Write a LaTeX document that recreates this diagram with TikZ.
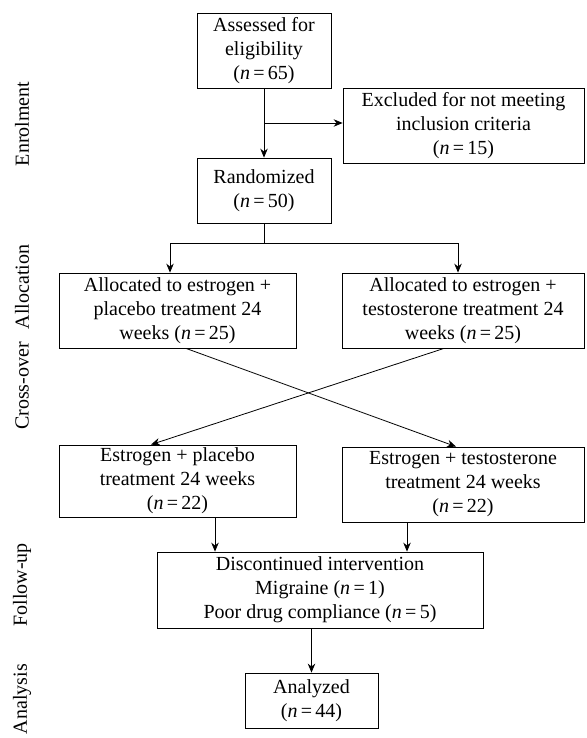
\documentclass[tikz,border=0pt]{standalone}
\usepackage{fontspec}
\setmainfont{Liberation Serif}
\usepackage{tikz}
\usetikzlibrary{positioning, arrows.meta, calc}
\newcommand{\ncount}[1]{(\textit{n}\,=\,#1)}

\begin{document}
\begin{tikzpicture}[
    x=1pt, y=-1pt, % pixel-like coordinates, top to bottom
    line width=0.8pt,
    >={Stealth[length=9pt,width=7.5pt]},
    every node/.style={font=\fontsize{20}{24}\selectfont},
    box/.style={draw, line width=0.8pt, align=center, inner sep=2pt},
    stage/.style={rotate=90}
]
    \useasboundingbox (0,0) rectangle (586,738);

    % Place the nodes
    \node (assess) [box, minimum width=134pt, minimum height=75pt] at (264,50.5)
        {Assessed for\\eligibility\\\ncount{65}};
    \node (excl) [box, minimum width=241pt, minimum height=75pt] at (463.5,125.5)
        {Excluded for not meeting\\inclusion criteria\\\ncount{15}};
    \node (rand) [box, minimum width=134pt, minimum height=65pt] at (264,190.5)
        {Randomized\\\ncount{50}};
    \node (alloce) [box, minimum width=237pt, minimum height=75pt] at (177.5,310.5)
        {Allocated to estrogen +\\placebo treatment 24\\weeks \ncount{25}};
    \node (alloct) [box, minimum width=242pt, minimum height=75pt] at (463,310.5)
        {Allocated to estrogen +\\testosterone treatment 24\\weeks \ncount{25}};
    \node (treatp) [box, minimum width=237pt, minimum height=72pt] at (177.5,481)
        {Estrogen + placebo\\treatment 24 weeks\\\ncount{22}};
    \node (treatt) [box, minimum width=242pt, minimum height=75pt] at (463,484.5)
        {Estrogen + testosterone\\treatment 24 weeks\\\ncount{22}};
    \node (disc) [box, minimum width=326pt, minimum height=76pt] at (320,590)
        {Discontinued intervention\\Migraine \ncount{1}\\Poor drug compliance \ncount{5}};
    \node (anal) [box, minimum width=133pt, minimum height=55pt] at (311.5,700.5)
        {Analyzed\\\ncount{44}};

    % Stage labels on the left
    \node (enrol) [stage] at (22,124) {Enrolment};
    \node (alloc) [stage] at (22,287) {Allocation};
    \node (cross) [stage] at (22,386) {Cross-over};
    \node (follow) [stage] at (22,585) {Follow-up};
    \node (analysis) [stage] at (22,699) {Analysis};

    % Helper points for the connectors
    \coordinate (split) at ($(assess.south)!0.5!(assess.south |- rand.north)$);
    \coordinate (forkl) at (170,243);
    \coordinate (forkr) at (458,243);
    \coordinate (pinp) at ([xshift=37.5pt]treatp.south);
    \coordinate (pint) at ([xshift=-56pt]treatt.south);

    % Draw the edges
    \draw [->] (assess.south) -- (assess.south |- rand.north);
    \draw [->] (split) -- (split -| excl.west);
    \draw (rand.south) -- (rand.south |- forkl);
    \draw [->] (forkr) -- (forkl) -- (forkl |- alloce.north);
    \draw [->] (forkr) -- (forkr |- alloct.north);
    \draw [->] ([xshift=8.5pt]alloce.south) -- ([xshift=-7pt]treatt.north);
    \draw [->] ([xshift=-19pt]alloct.south) -- ([xshift=-26.5pt]treatp.north);
    \draw [->] (pinp) -- (pinp |- disc.north);
    \draw [->] (pint) -- (pint |- disc.north);
    \draw [->] (anal.north |- disc.south) -- (anal.north);
\end{tikzpicture}
\end{document}
